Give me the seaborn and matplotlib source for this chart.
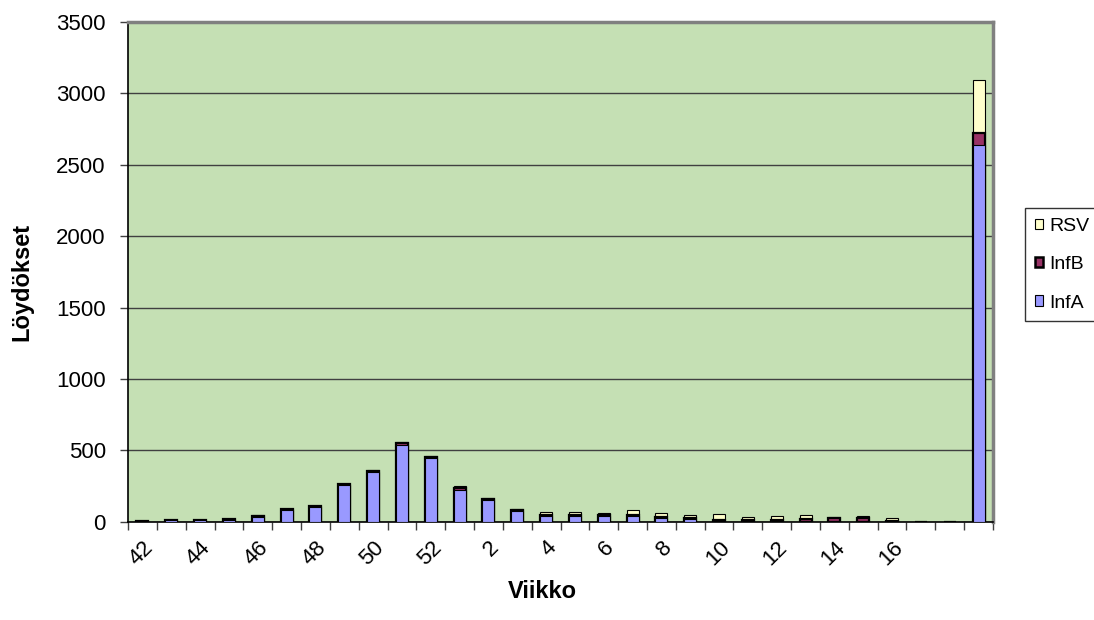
import matplotlib
matplotlib.use("Agg")
import matplotlib.pyplot as plt
from matplotlib.patches import Patch
from matplotlib.ticker import FixedLocator, MultipleLocator
import pandas as pd
import seaborn as sns

# weeks 42..52, 1..18, then the season total ("Yht") in the last slot
weeks = [str(w) for w in range(42, 53)] + [str(w) for w in range(1, 19)] + ["Yht"]
inf_a = [2, 10, 11, 10, 35, 80, 105, 255, 345, 540, 445,
         225, 150, 75, 40, 42, 40, 40, 25, 20, 8, 8, 2, 8, 3, 5, 2,
         0, 0, 2640]
inf_b = [1, 1, 1, 10, 7, 10, 3, 10, 8, 12, 8,
         10, 10, 8, 8, 8, 6, 8, 6, 5, 5, 2, 12, 8, 20, 20, 3,
         0, 0, 80]
rsv = [0, 1, 0, 2, 2, 2, 0, 2, 12, 3, 10,
       18, 3, 3, 17, 20, 12, 34, 27, 22, 38, 20, 28, 30, 7, 15, 18,
       0, 0, 375]

df = pd.DataFrame({"Viikko": weeks, "InfA": inf_a, "InfB": inf_b, "RSV": rsv})
df["AB"] = df["InfA"] + df["InfB"]
df["ABR"] = df["AB"] + df["RSV"]

sns.set_theme(style="white")
plt.rcParams["font.family"] = ["Liberation Sans", "DejaVu Sans"]
plt.rcParams.update({"text.color": "black", "axes.labelcolor": "black",
                     "xtick.labelcolor": "black", "ytick.labelcolor": "black"})

fig = plt.figure(figsize=(10.94, 6.2), dpi=100)
ax = fig.add_axes([128 / 1094, 1 - 521.7 / 620, 865 / 1094, (521.7 - 22) / 620])
ax.set_facecolor("#C5E0B4")

# stacked bars drawn as overlapping cumulative totals
sns.barplot(data=df, x="Viikko", y="ABR", order=weeks, color="#FFFFCC", saturation=1,
            width=0.42, edgecolor="black", linewidth=0.8, ax=ax, zorder=3)
sns.barplot(data=df, x="Viikko", y="AB", order=weeks, color="#993366", saturation=1,
            width=0.42, edgecolor="black", linewidth=1.6, ax=ax, zorder=4)
sns.barplot(data=df, x="Viikko", y="InfA", order=weeks, color="#9999FF", saturation=1,
            width=0.42, edgecolor="black", linewidth=0.8, ax=ax, zorder=5)

ax.set_xlim(-0.5, len(weeks) - 0.5)
ax.set_ylim(0, 3500)
ax.yaxis.set_major_locator(MultipleLocator(500))
ax.yaxis.grid(True, color="#404040", linewidth=1)
ax.set_axisbelow(True)

shown = [i for i in range(len(weeks)) if i % 2 == 0 and i < 27]
ax.xaxis.set_major_locator(FixedLocator(shown))
ax.set_xticklabels([weeks[i] for i in shown], rotation=45, ha="right",
                   rotation_mode="anchor", fontsize=16, color="black")
ax.xaxis.set_minor_locator(FixedLocator([i - 0.5 for i in range(len(weeks) + 1)]))
ax.tick_params(axis="x", which="major", length=0, pad=11)
ax.tick_params(axis="x", which="minor", length=6, width=1, color="#404040", direction="out",
               bottom=True)
ax.tick_params(axis="y", which="major", length=6, width=1, color="#404040", direction="out",
               left=True, labelsize=16, pad=10, labelcolor="black")

ax.set_xlabel("Viikko", fontsize=17, fontweight="bold", va="center", color="black")
ax.set_ylabel("Löydökset", fontsize=17, fontweight="bold", va="center", color="black")
ax.xaxis.set_label_coords((542 - 128) / 865, -(591 - 521.7) / 499.7)
ax.yaxis.set_label_coords((22 - 128) / 865, (521.7 - 282) / 499.7)

for side in ["left", "bottom"]:
    ax.spines[side].set_color("black")
    ax.spines[side].set_linewidth(1.2)
for side in ["top", "right"]:
    ax.spines[side].set_color("#808080")
    ax.spines[side].set_linewidth(2.5)

handles = [Patch(facecolor="#FFFFCC", edgecolor="black", linewidth=0.8, label="RSV"),
           Patch(facecolor="#993366", edgecolor="black", linewidth=1.8, label="InfB"),
           Patch(facecolor="#9999FF", edgecolor="black", linewidth=0.8, label="InfA")]
leg = fig.legend(handles=handles, loc="upper left", bbox_to_anchor=(1025 / 1094, 1 - 208 / 620),
                 fontsize=14, frameon=True, fancybox=False, handlelength=0.45, handleheight=0.45,
                 handletextpad=0.3, labelspacing=1.1, borderpad=0.5, borderaxespad=0,
                 labelcolor="black")
leg.get_frame().set_edgecolor("black")
leg.get_frame().set_linewidth(1)

fig.savefig("out.png", dpi=100)
